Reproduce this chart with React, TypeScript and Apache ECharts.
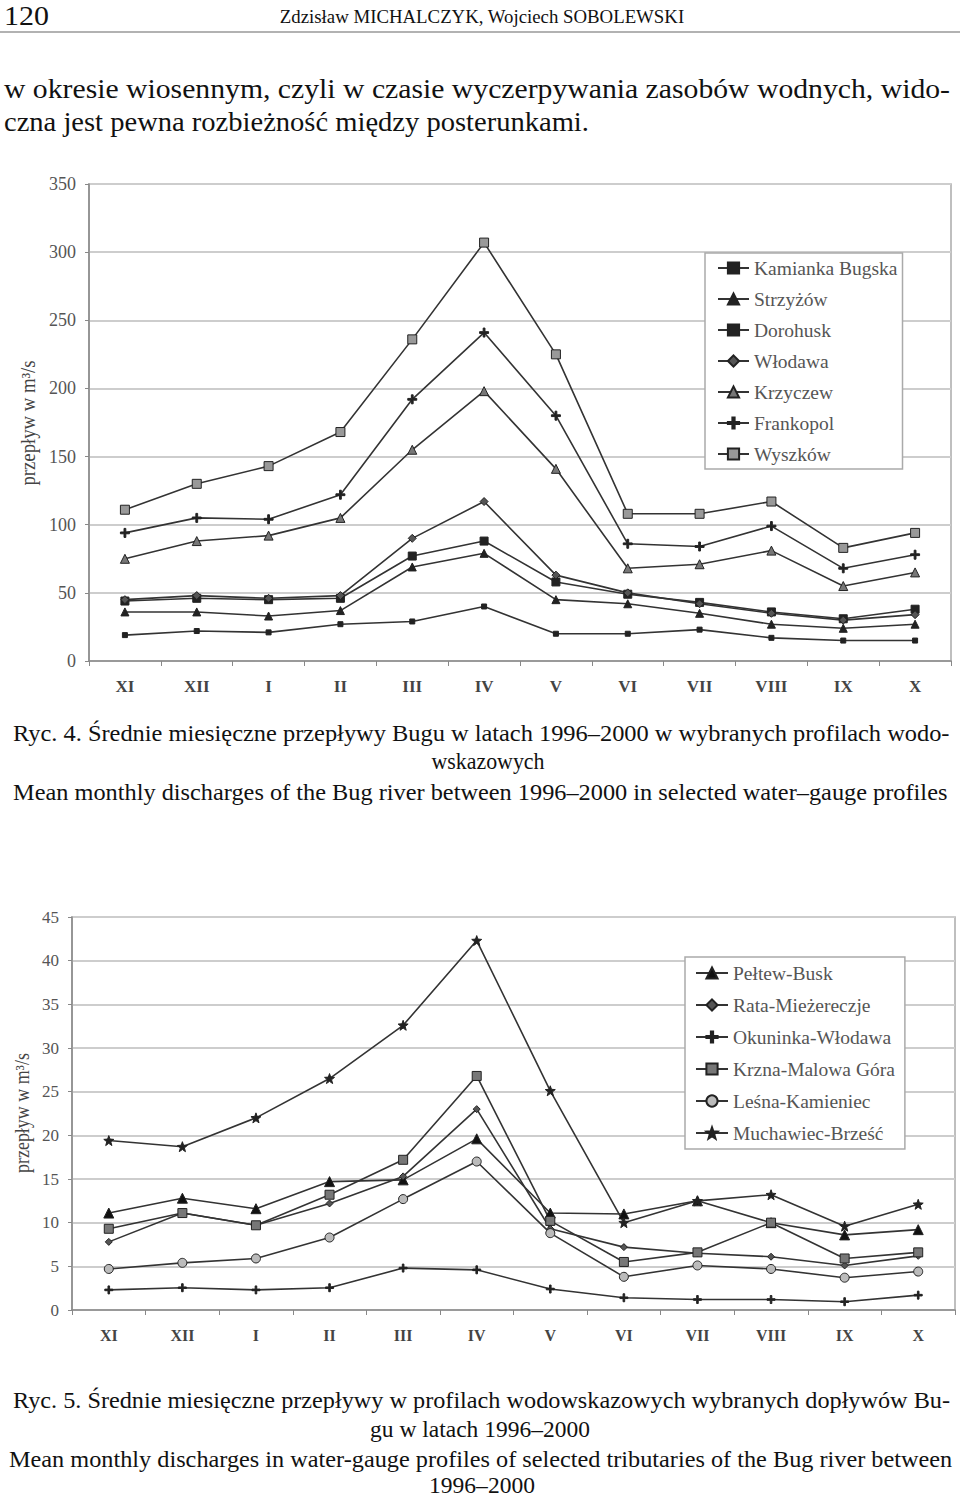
import React, { useEffect, useRef } from "react";
import * as echarts from "echarts";

// ---------- DATA ----------
const months = ["XI", "XII", "I", "II", "III", "IV", "V", "VI", "VII", "VIII", "IX", "X"];

// Ryc. 4 – Bug river (m3/s)
const kamianka = [19, 22, 21, 27, 29, 40, 20, 20, 23, 17, 15, 15];
const strzyzow = [36, 36, 33, 37, 69, 79, 45, 42, 35, 27, 24, 27];
const dorohusk = [44, 46, 45, 46, 77, 88, 58, 49, 43, 36, 31, 38];
const wlodawa = [45, 48, 46, 48, 90, 117, 63, 50, 42, 35, 30, 34];
const krzyczew = [75, 88, 92, 105, 155, 198, 141, 68, 71, 81, 55, 65];
const frankopol = [94, 105, 104, 122, 192, 241, 180, 86, 84, 99, 68, 78];
const wyszkow = [111, 130, 143, 168, 236, 307, 225, 108, 108, 117, 83, 94];
const names1 = ["Kamianka Bugska", "Strzyżów", "Dorohusk", "Włodawa", "Krzyczew", "Frankopol", "Wyszków"];
const yTicks1 = { min: 0, max: 350, interval: 50 };

// Ryc. 5 – tributaries (m3/s)
const peltew = [11.1, 12.8, 11.6, 14.7, 14.9, 19.6, 11.1, 11.0, 12.5, 10.0, 8.6, 9.2];
const rata = [7.8, 11.1, 9.7, 12.2, 15.3, 23.0, 9.3, 7.2, 6.5, 6.1, 5.1, 6.2];
const okuninka = [2.3, 2.55, 2.3, 2.55, 4.8, 4.6, 2.4, 1.4, 1.2, 1.2, 0.95, 1.7];
const krzna = [9.3, 11.1, 9.7, 13.2, 17.2, 26.8, 10.2, 5.5, 6.6, 10.0, 5.9, 6.6];
const lesna = [4.7, 5.4, 5.9, 8.3, 12.7, 17.0, 8.8, 3.8, 5.1, 4.7, 3.7, 4.4];
const muchawiec = [19.4, 18.7, 22.0, 26.5, 32.6, 42.3, 25.1, 10.0, 12.5, 13.2, 9.6, 12.1];
const names2 = ["Pełtew-Busk", "Rata-Mieżereczje", "Okuninka-Włodawa", "Krzna-Malowa Góra", "Leśna-Kamieniec", "Muchawiec-Brześć"];
const yTicks2 = { min: 0, max: 45, interval: 5 };

// ---------- TEXTS ----------
const pageNo = "120";
const runningHead = "Zdzisław MICHALCZYK, Wojciech SOBOLEWSKI";
const body1 = "w okresie wiosennym, czyli w czasie wyczerpywania zasobów wodnych, wido-";
const body2 = "czna jest pewna rozbieżność między posterunkami.";
const cap4a = "Ryc. 4. Średnie miesięczne przepływy Bugu w latach 1996–2000 w wybranych profilach wodo-";
const cap4b = "wskazowych";
const cap4c = "Mean monthly discharges of the Bug river between 1996–2000 in selected water–gauge profiles";
const cap5a = "Ryc. 5. Średnie miesięczne przepływy w profilach wodowskazowych wybranych dopływów Bu-";
const cap5b = "gu w latach 1996–2000";
const cap5c = "Mean monthly discharges in water-gauge profiles of selected tributaries of the Bug river between";
const cap5d = "1996–2000";
const yName = "przepływ w m³/s";

const FONT = "Liberation Serif";
const STAR = "path://M5,0 L6.2,3.5 L10,3.8 L7,6.2 L8.1,10 L5,7.8 L1.9,10 L3,6.2 L0,3.8 L3.8,3.5 Z";
const PLUS = "path://M4,0 L6,0 L6,4 L10,4 L10,6 L6,6 L6,10 L4,10 L4,6 L0,6 L0,4 L4,4 Z";

let ctx: CanvasRenderingContext2D | null = null;
function fit(text: string, size: number, weight: string, target: number) {
  if (!ctx) ctx = document.createElement("canvas").getContext("2d");
  if (!ctx) return 1;
  ctx.font = `${weight} ${size}px "${FONT}"`;
  const w = ctx.measureText(text).width;
  return w > 0 ? target / w : 1;
}

function txt(text: string, x: number, y: number, size: number, target: number, align: string, opts: any = {}) {
  const weight = opts.weight || "normal";
  return {
    type: "text",
    x,
    y,
    rotation: opts.rotation || 0,
    scaleX: fit(text, size, weight, target),
    silent: true,
    style: {
      text,
      fontSize: size,
      fontFamily: FONT,
      fontWeight: weight,
      fill: opts.color || "#111",
      textAlign: align,
      textVerticalAlign: "middle",
    },
  };
}

function line(name: string, data: number[], idx: number, symbol: string, size: number, fill: string, border = "#222") {
  return {
    name,
    type: "line",
    xAxisIndex: idx,
    yAxisIndex: idx,
    data,
    symbol,
    symbolSize: size,
    showAllSymbol: true,
    lineStyle: { color: "#333", width: 1.6 },
    itemStyle: { color: fill, borderColor: border, borderWidth: 1 },
    emphasis: { disabled: true },
  };
}

const axisText = { fontFamily: FONT, color: "#555" };

function xAxis(idx: number, size: number) {
  return {
    type: "category",
    gridIndex: idx,
    data: months,
    boundaryGap: true,
    axisLine: { lineStyle: { color: "#888", width: 1.5 } },
    axisTick: { show: true, length: 5, lineStyle: { color: "#888" } },
    axisLabel: { ...axisText, fontSize: size, fontWeight: "bold", color: "#444", margin: 17 },
    splitLine: { show: false },
  };
}

function yAxis(idx: number, t: any, size: number) {
  return {
    type: "value",
    gridIndex: idx,
    min: t.min,
    max: t.max,
    interval: t.interval,
    axisLine: { show: true, lineStyle: { color: "#888", width: 1.5 } },
    axisTick: { show: true, length: 4, lineStyle: { color: "#888" } },
    axisLabel: { ...axisText, fontSize: size, margin: 13 },
    splitLine: { show: true, lineStyle: { color: "#cdcdcd", width: 2 } },
  };
}

export default function App() {
  const ref = useRef<HTMLDivElement>(null);
  useEffect(() => {
    if (!ref.current) return;
    const chart = echarts.init(ref.current, null, { renderer: "svg" });
    const legendCommon = {
      orient: "vertical",
      backgroundColor: "#fff",
      borderColor: "#aaa",
      borderWidth: 1.5,
      itemHeight: 14,
      selectedMode: false,
      textStyle: { fontFamily: FONT, fontSize: 19.5, color: "#555", lineHeight: 18 },
    };
    chart.setOption({
      animation: false,
      backgroundColor: "#fff",
      grid: [
        { left: 89, top: 184, width: 862, height: 477, show: true, borderColor: "#aaa", borderWidth: 1.5, backgroundColor: "transparent" },
        { left: 72, top: 917, width: 883, height: 393, show: true, borderColor: "#aaa", borderWidth: 1.5, backgroundColor: "transparent" },
      ],
      xAxis: [xAxis(0, 17), xAxis(1, 16)],
      yAxis: [yAxis(0, yTicks1, 18), yAxis(1, yTicks2, 17)],
      legend: [
        { ...legendCommon, data: names1, left: 705, top: 253, padding: [5, 5, 5, 12], itemWidth: 31, itemGap: 11 },
        { ...legendCommon, data: names2, left: 685, top: 957, padding: [6, 10, 6, 10], itemWidth: 32, itemGap: 12 },
      ],
      series: [
        line(names1[0], kamianka, 0, "rect", 5, "#222"),
        line(names1[1], strzyzow, 0, "triangle", 8, "#222"),
        line(names1[2], dorohusk, 0, "rect", 8, "#222"),
        line(names1[3], wlodawa, 0, "diamond", 8, "#555"),
        line(names1[4], krzyczew, 0, "triangle", 9, "#777"),
        line(names1[5], frankopol, 0, PLUS, 9, "#222"),
        line(names1[6], wyszkow, 0, "rect", 9, "#999"),
        line(names2[0], peltew, 1, "triangle", 10, "#111"),
        line(names2[1], rata, 1, "diamond", 7, "#555"),
        line(names2[2], okuninka, 1, PLUS, 8, "#222"),
        line(names2[3], krzna, 1, "rect", 9, "#777"),
        line(names2[4], lesna, 1, "circle", 9, "#bbb"),
        line(names2[5], muchawiec, 1, STAR, 10, "#222"),
      ],
      graphic: [
        txt(pageNo, 4, 15, 28, 45, "left"),
        txt(runningHead, 482, 16, 19, 405, "center"),
        { type: "line", silent: true, shape: { x1: 0, y1: 32, x2: 960, y2: 32 }, style: { stroke: "#999", lineWidth: 1.5 } },
        txt(body1, 4, 88, 28, 946, "left"),
        txt(body2, 4, 122, 28, 585, "left"),
        txt(yName, 28, 423, 20, 125, "center", { rotation: Math.PI / 2, color: "#444" }),
        txt(cap4a, 13, 733, 24, 937, "left"),
        txt(cap4b, 488, 761, 24, 113, "center"),
        txt(cap4c, 13, 792, 24, 935, "left"),
        txt(yName, 22, 1113, 20, 120, "center", { rotation: Math.PI / 2, color: "#444" }),
        txt(cap5a, 13, 1400, 24, 937, "left"),
        txt(cap5b, 480, 1429, 24, 220, "center"),
        txt(cap5c, 9, 1459, 24, 944, "left"),
        txt(cap5d, 482, 1485, 23, 106, "center"),
      ],
    });
    return () => chart.dispose();
  }, []);
  return (
    <div
      ref={ref}
      style={{ position: "absolute", left: 0, top: 0, width: 960, height: 1499, background: "#fff" }}
    />
  );
}
